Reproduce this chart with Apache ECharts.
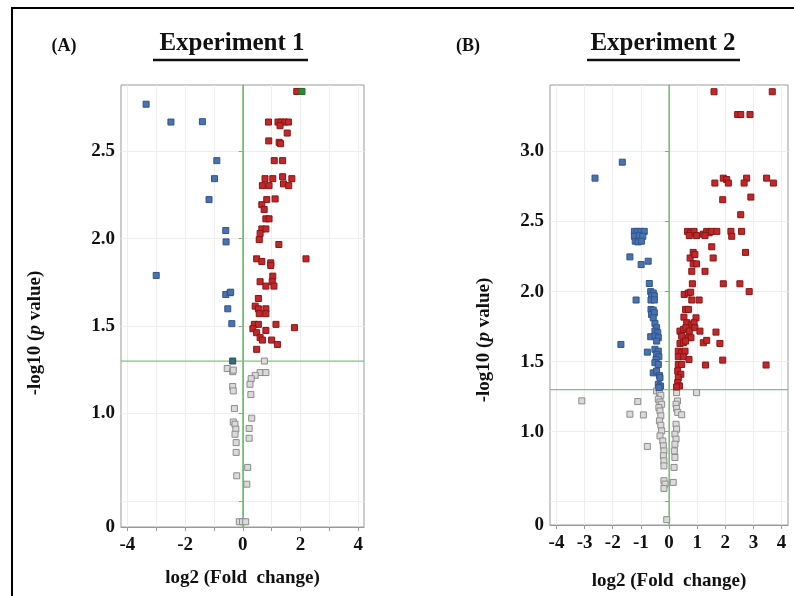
<!DOCTYPE html>
<html>
<head>
<meta charset="utf-8">
<script src="https://cdn.jsdelivr.net/npm/echarts@6/dist/echarts.min.js"></script>
<style>
  html, body { margin: 0; padding: 0; background: #fff; }
  #chart { width: 794px; height: 596px; }
</style>
</head>
<body>
<div id="chart"></div>
<script>
// volcano plots, two experiments
var FONT = '"Liberation Serif", "DejaVu Serif", serif';

// ---- Experiment 1 ----
var upA = [
  [1.87,2.843],
  [0.89,2.668],[1.22,2.668],[1.33,2.668],[1.45,2.668],[1.58,2.668],
  [1.29,2.647],[1.54,2.605],[0.90,2.56],[1.26,2.552],[1.31,2.544],
  [1.09,2.447],[1.38,2.447],
  [0.77,2.344],[1.04,2.344],[1.38,2.355],[1.70,2.344],
  [0.68,2.304],[0.91,2.304],[1.41,2.314],[1.59,2.304],
  [0.83,2.224],[1.12,2.228],[0.66,2.195],[0.74,2.167],
  [0.80,2.114],[0.91,2.114],[0.66,2.056],[0.80,2.056],[0.60,2.03],[0.57,1.995],
  [1.25,1.967],[0.48,1.885],[0.66,1.87],[0.97,1.862],[0.97,1.847],[2.19,1.885],[1.04,1.786],
  [0.60,1.754],[0.80,1.729],[1.02,1.754],[1.08,1.729],[0.54,1.658],
  [0.43,1.614],[0.54,1.599],[0.80,1.599],[0.80,1.571],[0.57,1.571],
  [0.40,1.510],[0.54,1.510],[1.15,1.510],[1.79,1.491],
  [0.35,1.485],[0.48,1.462],[0.80,1.475],[0.60,1.434],[0.68,1.42],[1.00,1.42],[1.20,1.395],[0.48,1.367]
];
var greenA = [[2.05,2.843]];
var downA = [
  [-3.35,2.77],[-2.49,2.668],[-1.40,2.67],[-0.90,2.447],[-0.98,2.344],[-1.17,2.224],
  [-0.59,2.047],[-0.58,1.982],[-3.0,1.79],[-0.59,1.681],[-0.44,1.691],[-0.42,1.694],
  [-0.52,1.599],[-0.38,1.514]
];
var edgeA = [[-0.35,1.30]];
var nsA = [
  [0.75,1.30],[-0.54,1.257],[-0.35,1.239],[-0.33,1.248],[0.60,1.234],[0.80,1.234],
  [0.43,1.218],[0.29,1.199],[0.25,1.167],[-0.35,1.154],[-0.33,1.129],[0.28,1.108],
  [-0.29,1.028],[0.31,0.973],[-0.33,0.951],[-0.27,0.938],[-0.24,0.910],[-0.27,0.881],
  [0.22,0.914],[0.22,0.858],[-0.23,0.833],[-0.23,0.777],[0.17,0.691],[-0.21,0.643],
  [0.14,0.595],[-0.12,0.38],[-0.01,0.38],[0.10,0.38]
];

// ---- Experiment 2 ----
var upB = [
  [1.60,3.427],[3.67,3.427],[2.44,3.264],[2.55,3.264],[2.88,3.264],
  [1.93,2.81],[2.05,2.80],[1.63,2.775],[2.11,2.775],[2.76,2.81],[2.67,2.775],[3.47,2.81],[3.71,2.775],
  [1.91,2.656],[2.91,2.675],[2.55,2.549],
  [0.66,2.43],[0.77,2.42],[0.89,2.43],[0.98,2.40],[1.22,2.41],[1.34,2.43],[1.43,2.42],[1.52,2.43],
  [1.70,2.43],[2.20,2.43],[2.58,2.43],[2.23,2.395],[0.72,2.40],[1.28,2.40],
  [1.52,2.32],[1.57,2.24],[2.72,2.28],[0.86,2.28],[0.75,2.24],[0.92,2.264],[0.86,2.198],[0.98,2.198],
  [0.81,2.145],[1.28,2.145],
  [0.83,2.056],[1.93,2.056],[2.52,2.056],[2.85,2.0],[0.54,1.98],[0.69,1.99],[0.77,1.996],[0.81,1.94],[1.07,1.94],
  [0.59,1.873],[0.69,1.873],[0.53,1.818],[0.96,1.813],[0.63,1.778],[0.81,1.766],[0.89,1.778],
  [0.39,1.718],[0.51,1.73],[0.60,1.742],[0.72,1.718],[0.92,1.742],[1.10,1.718],[1.67,1.711],
  [0.45,1.682],[0.69,1.671],[0.78,1.671],[1.22,1.635],[1.34,1.652],[1.81,1.63],[0.39,1.63],[0.51,1.635],[0.59,1.647],
  [0.33,1.575],[0.45,1.564],[0.57,1.575],[0.33,1.535],[0.51,1.535],[0.71,1.516],[1.91,1.511],
  [0.33,1.48],[0.45,1.48],[1.30,1.476],[3.45,1.476],
  [0.31,1.433],[0.42,1.41],[0.33,1.386],[0.31,1.35],[0.37,1.327],[0.27,1.319]
];
var downB = [
  [-1.66,2.924],[-2.63,2.81],
  [-1.23,2.43],[-1.13,2.43],[-1.0,2.43],[-0.88,2.43],[-1.23,2.395],[-1.06,2.40],[-0.93,2.395],
  [-1.20,2.36],[-1.10,2.355],[-0.98,2.36],
  [-1.39,2.248],[-0.99,2.193],[-0.74,2.217],
  [-0.70,2.058],[-1.17,1.94],
  [-0.65,2.0],[-0.56,1.99],[-0.62,1.97],[-0.52,1.97],[-0.64,1.94],[-0.52,1.94],
  [-0.64,1.873],[-0.56,1.868],[-0.62,1.837],[-0.52,1.849],[-0.56,1.813],
  [-0.50,1.773],[-0.44,1.742],[-0.50,1.718],[-0.40,1.707],
  [-0.65,1.678],[-0.50,1.682],[-0.38,1.671],[-0.44,1.647],
  [-1.71,1.623],[-0.77,1.568],
  [-0.50,1.588],[-0.38,1.575],[-0.44,1.552],[-0.36,1.535],[-0.46,1.516],
  [-0.50,1.493],[-0.38,1.48],[-0.56,1.42],[-0.44,1.433],[-0.34,1.40],[-0.32,1.386],
  [-0.38,1.338],[-0.30,1.326],[-0.36,1.315]
];
var nsB = [
  [-3.10,1.22],[-1.11,1.215],[-1.39,1.125],[-0.91,1.12],[0.98,1.279],[-0.77,0.895],
  [-0.44,1.291],[-0.34,1.279],[-0.29,1.26],[-0.38,1.231],[-0.32,1.212],[-0.26,1.196],
  [-0.36,1.172],[-0.32,1.148],[-0.29,1.113],[-0.34,1.077],[-0.29,1.046],[-0.26,1.006],
  [-0.32,0.970],[-0.22,0.934],[-0.20,0.899],[-0.18,0.863],[-0.20,0.828],[-0.18,0.792],
  [-0.18,0.756],[-0.18,0.650],[-0.14,0.626],[-0.18,0.595],[-0.08,0.372],
  [0.27,1.279],[0.30,1.219],[0.25,1.196],[0.27,1.166],[0.31,1.138],[0.45,1.121],
  [0.25,1.053],[0.27,1.018],[0.21,0.982],[0.25,0.947],[0.21,0.911],[0.19,0.863],
  [0.21,0.816],[0.18,0.745],[0.15,0.638]
];

// axes ranges and ticks
var xRangeA = [-4.22, 4.2];
var xRangeB = [-4.23, 4.23];
var yRangeA = [0.35, 2.88];
var yRangeB = [0.334, 3.475];
var xTicks = [-4, -3, -2, -1, 0, 1, 2, 3, 4];
var xLabelsA = [-4, -2, 0, 2, 4];
var xLabelsB = [-4, -3, -2, -1, 0, 1, 2, 3, 4];
var yTicksA = [0.35, 0.5, 1.0, 1.5, 2.0, 2.5];
var yTickTextA = ['0', '', '1.0', '1.5', '2.0', '2.5'];
var yTicksB = [0.334, 0.5, 1.0, 1.5, 2.0, 2.5, 3.0];
var yTickTextB = ['0', '', '1.0', '1.5', '2.0', '2.5', '3.0'];
var pThreshold = 1.3;

var chart = echarts.init(document.getElementById('chart'));

function labelFor(vals, texts) {
  return function (v) {
    for (var i = 0; i < vals.length; i++) {
      if (Math.abs(vals[i] - v) < 1e-6) return texts[i];
    }
    return '';
  };
}

var tickFont = { fontFamily: FONT, fontWeight: 'bold', fontSize: 19, color: '#111' };

function xAxisCfg(idx, range, labels, gap) {
  return {
    type: 'value', gridIndex: idx, min: range[0], max: range[1],
    name: 'log2 (Fold  change)', nameLocation: 'middle', nameGap: gap,
    nameTextStyle: { fontFamily: FONT, fontWeight: 'bold', fontSize: 19, color: '#111' },
    axisLine: { lineStyle: { color: '#999' } },
    axisTick: { customValues: xTicks, length: 4, lineStyle: { color: '#999' } },
    axisLabel: Object.assign({ customValues: labels, margin: 9 }, tickFont),
    splitLine: { show: true, lineStyle: { color: '#eee' } }
  };
}

function yAxisCfg(idx, range, vals, texts, gap, pad) {
  return {
    type: 'value', gridIndex: idx, min: range[0], max: range[1],
    name: '-log10 ({i|p} value)', nameLocation: 'middle', nameGap: gap,
    nameTextStyle: {
      fontFamily: FONT, fontWeight: 'bold', fontSize: 19, color: '#111',
      padding: [0, pad, 0, 0],
      rich: { i: { fontFamily: FONT, fontWeight: 'bold', fontStyle: 'italic', fontSize: 19, color: '#111' } }
    },
    axisLine: { lineStyle: { color: '#999' } },
    axisTick: { customValues: vals, length: 4, lineStyle: { color: '#999' } },
    axisLabel: Object.assign({ customValues: vals, margin: 6, formatter: labelFor(vals, texts) }, tickFont),
    splitLine: { show: true, lineStyle: { color: '#eee' } }
  };
}

function dots(name, data, idx, fill, border) {
  return {
    name: name, type: 'scatter', xAxisIndex: idx, yAxisIndex: idx,
    symbol: 'rect', symbolSize: 6, data: data, silent: true,
    itemStyle: { color: fill, borderColor: border, borderWidth: 1, opacity: 1 }
  };
}

// green reference lines: x = 0 and y = -log10(0.05)
function guide(idx, data) {
  return {
    type: 'line', xAxisIndex: idx, yAxisIndex: idx, data: data, silent: true,
    symbol: 'none', z: 1,
    lineStyle: { color: '#7cc47c', width: 1.3 }
  };
}

var RED = '#c1282b', RED_B = '#8a1414';
var BLUE = '#4a72ad', BLUE_B = '#2f5590';
var GREY = '#dadada', GREY_B = '#8c8c8c';

var option = {
  backgroundColor: '#fff',
  animation: false,
  grid: [
    { left: 121, top: 85, width: 243, height: 442, show: true, borderColor: '#999', borderWidth: 1 },
    { left: 550, top: 85, width: 238, height: 440, show: true, borderColor: '#999', borderWidth: 1 }
  ],
  xAxis: [
    xAxisCfg(0, xRangeA, xLabelsA, 42),
    xAxisCfg(1, xRangeB, xLabelsB, 47)
  ],
  yAxis: [
    yAxisCfg(0, yRangeA, yTicksA, yTickTextA, 76, 54),
    yAxisCfg(1, yRangeB, yTicksB, yTickTextB, 56, 70)
  ],
  series: [
    guide(0, [[0, yRangeA[0]], [0, yRangeA[1]]]),
    guide(0, [[xRangeA[0], pThreshold], [xRangeA[1], pThreshold]]),
    dots('ns', nsA, 0, GREY, GREY_B),
    dots('down', downA, 0, BLUE, BLUE_B),
    dots('edge', edgeA, 0, '#3f6b78', '#2a4f5a'),
    dots('up', upA, 0, RED, RED_B),
    dots('up2', greenA, 0, '#2f8a35', '#1d6a22'),
    guide(1, [[0, yRangeB[0]], [0, yRangeB[1]]]),
    guide(1, [[xRangeB[0], pThreshold], [xRangeB[1], pThreshold]]),
    dots('ns', nsB, 1, GREY, GREY_B),
    dots('down', downB, 1, BLUE, BLUE_B),
    dots('up', upB, 1, RED, RED_B)
  ],
  graphic: [
    { type: 'rect', shape: { x: 12, y: 8, width: 800, height: 620 },
      style: { fill: 'none', stroke: '#000', lineWidth: 2 }, silent: true },
    { type: 'text', x: 64, y: 46, style: { text: '(A)', font: 'bold 18px ' + FONT, fill: '#111', align: 'center', verticalAlign: 'middle' } },
    { type: 'text', x: 232, y: 44, style: { text: 'Experiment 1', font: 'bold 25px ' + FONT, fill: '#111', align: 'center', verticalAlign: 'middle' } },
    { type: 'line', shape: { x1: 153, y1: 60, x2: 308, y2: 60 }, style: { stroke: '#111', lineWidth: 2.5 } },
    { type: 'text', x: 468, y: 46, style: { text: '(B)', font: 'bold 18px ' + FONT, fill: '#111', align: 'center', verticalAlign: 'middle' } },
    { type: 'text', x: 663, y: 44, style: { text: 'Experiment 2', font: 'bold 25px ' + FONT, fill: '#111', align: 'center', verticalAlign: 'middle' } },
    { type: 'line', shape: { x1: 587, y1: 60, x2: 740, y2: 60 }, style: { stroke: '#111', lineWidth: 2.5 } }
  ]
};

chart.setOption(option);
</script>
</body>
</html>
